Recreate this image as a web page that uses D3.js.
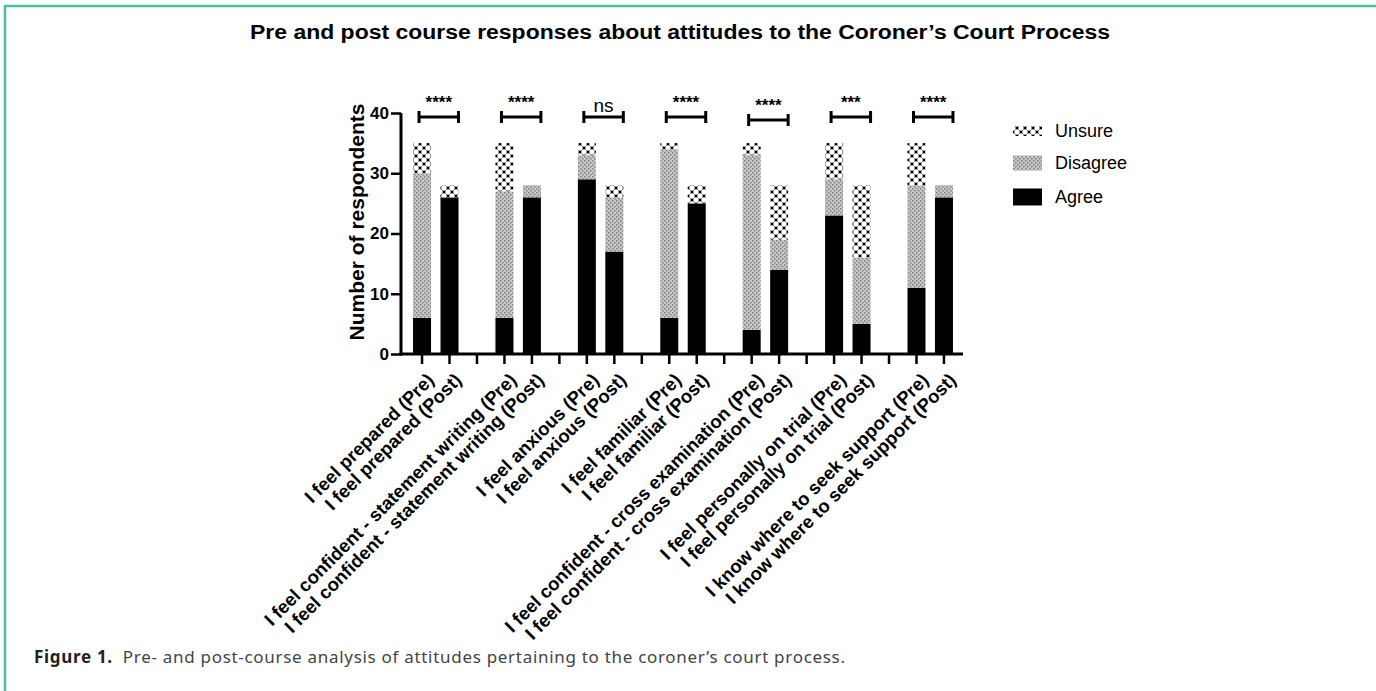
<!DOCTYPE html>
<html>
<head>
<meta charset="utf-8">
<script src="https://cdn.jsdelivr.net/npm/d3@7"></script>
<style>
  body { margin: 0; background: #fff; }
  svg { display: block; }
</style>
</head>
<body>
<div id="chart"></div>
<script>
// statements asked before and after the course
const statements = ['I feel prepared', 'I feel confident - statement writing', 'I feel anxious',
  'I feel familiar', 'I feel confident - cross examination', 'I feel personally on trial',
  'I know where to seek support'];
const agreePre = [6, 6, 29, 6, 4, 23, 11];
const disagreePre = [24, 21, 4, 28, 29, 6, 17];
const unsurePre = [5, 8, 2, 1, 2, 6, 7];
const agreePost = [26, 26, 17, 25, 14, 5, 26];
const disagreePost = [0, 2, 9, 0, 5, 11, 2];
const unsurePost = [2, 0, 2, 3, 9, 12, 0];
const significance = ['****', '****', 'ns', '****', '****', '***', '****'];
const responseTypes = ['Unsure', 'Disagree', 'Agree'];
const yTicks = [0, 10, 20, 30, 40];

const W = 1376, H = 691;
const green = '#4cbf96';
const fontChart = 'Liberation Sans, Arial, Helvetica, sans-serif';

const svg = d3.select('#chart').append('svg')
  .attr('width', W).attr('height', H);

svg.append('rect').attr('width', W).attr('height', H).attr('fill', '#fff');

// patterns
const defs = svg.append('defs');
const pU = defs.append('pattern').attr('id', 'unsure')
  .attr('patternUnits', 'userSpaceOnUse').attr('width', 8).attr('height', 8);
pU.append('rect').attr('width', 8).attr('height', 8).attr('fill', '#000');
[[0, 0], [8, 0], [0, 8], [8, 8], [4, 4]].forEach((c) => {
  pU.append('circle').attr('cx', c[0]).attr('cy', c[1]).attr('r', 2.7).attr('fill', '#fff');
});

const pD = defs.append('pattern').attr('id', 'disagree')
  .attr('patternUnits', 'userSpaceOnUse').attr('width', 4).attr('height', 4);
pD.append('rect').attr('width', 4).attr('height', 4).attr('fill', '#c6c6c6');
pD.append('rect').attr('x', 0).attr('y', 0).attr('width', 1.5).attr('height', 1.5).attr('fill', '#808080');
pD.append('rect').attr('x', 2).attr('y', 2).attr('width', 1.5).attr('height', 1.5).attr('fill', '#808080');

const fills = { Unsure: 'url(#unsure)', Disagree: 'url(#disagree)', Agree: '#000' };

// frame
svg.append('line').attr('x1', 4).attr('x2', W).attr('y1', 6).attr('y2', 6)
  .attr('stroke', green).attr('stroke-width', 2.5);
svg.append('line').attr('x1', 5).attr('x2', 5).attr('y1', 5).attr('y2', H)
  .attr('stroke', green).attr('stroke-width', 2.5);

// title
svg.append('text')
  .attr('x', 680).attr('y', 39)
  .attr('text-anchor', 'middle')
  .attr('font-family', fontChart).attr('font-weight', 'bold').attr('font-size', 20)
  .attr('textLength', 860).attr('lengthAdjust', 'spacingAndGlyphs')
  .text('Pre and post course responses about attitudes to the Coroner\u2019s Court Process');

// slots: pre, post, gap for each statement
const slots = [];
statements.forEach((s, i) => {
  slots.push('pre' + i, 'post' + i);
  if (i < statements.length - 1) slots.push('gap' + i);
});

const x = d3.scaleBand().domain(slots).range([408.3, 957.7]);
const y = d3.scaleLinear().domain([0, 40]).range([354, 113]);
const barW = 18;
const cx = (k) => x(k) + x.bandwidth() / 2;

// bars
const bars = [];
statements.forEach((s, i) => {
  bars.push({ key: 'pre' + i, label: s + ' (Pre)', Agree: agreePre[i], Disagree: disagreePre[i], Unsure: unsurePre[i] });
  bars.push({ key: 'post' + i, label: s + ' (Post)', Agree: agreePost[i], Disagree: disagreePost[i], Unsure: unsurePost[i] });
});

const stack = d3.stack().keys(['Agree', 'Disagree', 'Unsure'])(bars);

svg.append('g').selectAll('g')
  .data(stack)
  .join('g')
  .attr('fill', (d) => fills[d.key])
  .selectAll('rect')
  .data((d) => d)
  .join('rect')
  .attr('x', (d) => cx(d.data.key) - barW / 2)
  .attr('width', barW)
  .attr('y', (d) => y(d[1]))
  .attr('height', (d) => y(d[0]) - y(d[1]));

// y axis
const yAxis = svg.append('g')
  .attr('transform', 'translate(401,0)')
  .call(d3.axisLeft(y).tickValues(yTicks).tickSize(10).tickPadding(2));
yAxis.select('.domain').attr('stroke-width', 3).attr('d', 'M0,' + y(40) + 'V' + (y(0) + 1.5));
yAxis.selectAll('.tick line').attr('stroke-width', 2.5);
yAxis.selectAll('.tick text')
  .attr('font-family', fontChart).attr('font-weight', 'bold').attr('font-size', 17).attr('fill', '#000');

svg.append('text')
  .attr('transform', 'translate(364,222) rotate(-90)')
  .attr('text-anchor', 'middle')
  .attr('font-family', fontChart).attr('font-weight', 'bold').attr('font-size', 21)
  .text('Number of respondents');

// x axis
const xAxis = svg.append('g')
  .attr('transform', 'translate(0,' + y(0) + ')')
  .call(d3.axisBottom(x).tickSize(10).tickFormat(''));
xAxis.select('.domain').attr('stroke-width', 3).attr('d', 'M399.5,0H963');
xAxis.selectAll('.tick line').attr('stroke-width', 2.5);

svg.append('g').selectAll('text')
  .data(bars)
  .join('text')
  .attr('transform', (d) => 'translate(' + (cx(d.key) + 4) + ',372) rotate(-45)')
  .attr('text-anchor', 'end')
  .attr('dy', '0.7em')
  .attr('font-family', fontChart).attr('font-weight', 'bold').attr('font-size', 18.5)
  .text((d) => d.label);

// significance brackets
statements.forEach((s, i) => {
  const x1 = cx('pre' + i) - 3;
  const x2 = cx('post' + i) + 9;
  const by = i === 4 ? 120 : 117;
  const g = svg.append('g').attr('stroke', '#000').attr('stroke-width', 3);
  g.append('line').attr('x1', x1).attr('x2', x2).attr('y1', by).attr('y2', by);
  g.append('line').attr('x1', x1).attr('x2', x1).attr('y1', by - 6).attr('y2', by + 6);
  g.append('line').attr('x1', x2).attr('x2', x2).attr('y1', by - 6).attr('y2', by + 6);
  const isNs = significance[i] === 'ns';
  svg.append('text')
    .attr('x', (x1 + x2) / 2).attr('y', isNs ? by - 5 : by - 9)
    .attr('text-anchor', 'middle')
    .attr('font-family', fontChart)
    .attr('font-weight', isNs ? 'normal' : 'bold')
    .attr('font-size', isNs ? 19 : 17)
    .text(significance[i]);
});

// legend
const legend = svg.append('g').attr('transform', 'translate(1013,0)');
const legendY = { Unsure: 131, Disagree: 163, Agree: 197 };
responseTypes.forEach((t) => {
  const h = t === 'Unsure' ? 10 : t === 'Disagree' ? 15 : 17;
  legend.append('rect')
    .attr('x', 0).attr('y', legendY[t] - h / 2)
    .attr('width', 29).attr('height', h)
    .attr('fill', fills[t]);
  legend.append('text')
    .attr('x', 42).attr('y', legendY[t]).attr('dy', '0.36em')
    .attr('font-family', fontChart).attr('font-size', 18)
    .text(t);
});

// caption
const cap = svg.append('text')
  .attr('x', 34).attr('y', 663)
  .attr('font-family', 'Noto Sans, DejaVu Sans, sans-serif').attr('font-size', 17)
  .attr('letter-spacing', 0.7);
cap.append('tspan').attr('font-weight', 'bold').attr('fill', '#222').text('Figure 1.');
cap.append('tspan').attr('fill', '#444').attr('dx', 10)
  .text('Pre- and post-course analysis of attitudes pertaining to the coroner\u2019s court process.');
</script>
</body>
</html>
